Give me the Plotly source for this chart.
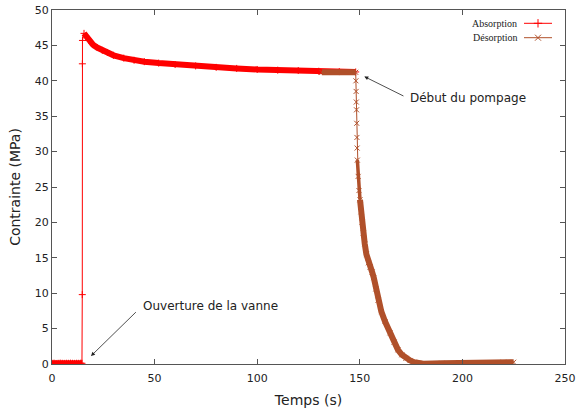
import numpy as np
import plotly.graph_objects as go

# Absorption series (time s, stress MPa)
abs_t = [0, 1, 2, 3, 4, 5, 6, 7, 8, 9, 10, 11, 12, 13, 14, 14.6,
         14.75, 14.8, 14.85, 15.6, 16.5, 18, 20, 22, 24.5, 27, 30, 35, 40, 45,
         52, 60, 70, 80, 90, 100, 110, 120, 130, 140, 148]
abs_v = [0.1, 0.12, 0.08, 0.1, 0.13, 0.1, 0.09, 0.11, 0.1, 0.12, 0.1, 0.09, 0.11, 0.1, 0.12, 0.1,
         9.8, 42.4, 45.7, 46.7, 46.3, 45.7, 45.1, 44.7, 44.3, 44.0, 43.6, 43.2, 42.9, 42.7,
         42.5, 42.3, 42.1, 41.9, 41.75, 41.6, 41.5, 41.45, 41.35, 41.3, 41.25]

# Desorption series
des_t = [131.5, 135, 140, 145, 148.0, 148.1, 148.2, 148.3, 148.4, 148.5, 148.6, 148.7, 148.8,
         149.2, 149.6, 150.1, 150.6, 151.1, 151.7, 152.4, 153.2, 154.2, 155.0, 156.0, 156.8,
         157.8, 158.9, 160.5, 162.3, 164.7, 166.7, 168.6, 170.5, 172.5, 174.5, 176.5, 178.5,
         181, 190, 200, 210, 220, 225]
des_v = [41.2, 41.2, 41.2, 41.2, 41.2, 40.0, 38.5, 37.0, 35.9, 34.0, 32.0, 30.5, 28.8,
         26.5, 24.5, 23.2, 21.5, 20.0, 18.5, 17.0, 15.5, 14.3, 13.7, 13.0, 12.2,
         10.6, 9.0, 7.4, 6.0, 4.4, 3.1, 2.0, 1.3, 0.8, 0.5, 0.25, 0.12,
         0.05, 0.1, 0.15, 0.2, 0.25, 0.25]

x_ticks = [0, 50, 100, 150, 200, 250]
y_ticks = [0, 5, 10, 15, 20, 25, 30, 35, 40, 45, 50]

RED = "#ff0000"
BROWN = "#b0502a"
FONT = "DejaVu Sans"

at = np.array(abs_t); av = np.array(abs_v)
dt = np.array(des_t); dv = np.array(des_v)

fig = go.Figure()

# dense "band" look of the absorption curve
m0 = at <= 14.6
m1 = at >= 15.6
for m in (m0, m1):
    fig.add_trace(go.Scatter(x=at[m], y=av[m], mode="lines", line=dict(color=RED, width=6),
                             showlegend=False, hoverinfo="skip"))
fig.add_trace(go.Scatter(x=at, y=av, mode="lines+markers", name="Absorption",
                         line=dict(color=RED, width=1),
                         marker=dict(symbol="cross-thin", size=5, line=dict(color=RED, width=1)),
                         showlegend=False))

# desorption
d0 = dt <= 148.0
d1 = (dt >= 148.8) & (dt <= 150.1)
d2 = dt >= 150.1
for m, w in ((d0, 6), (d1, 3.5), (d2, 6)):
    fig.add_trace(go.Scatter(x=dt[m], y=dv[m], mode="lines", line=dict(color=BROWN, width=w),
                             showlegend=False, hoverinfo="skip"))
fig.add_trace(go.Scatter(x=dt, y=dv, mode="lines+markers", name="Désorption",
                         line=dict(color=BROWN, width=1),
                         marker=dict(symbol="x-thin", size=5, line=dict(color=BROWN, width=1)),
                         showlegend=False))

# custom legend on an overlay axis in page pixel coordinates
leg_names = ["Absorption", "Désorption"]
leg_cols = [RED, BROWN]
leg_syms = ["cross-thin", "x-thin"]
leg_y = [23.3, 37.7]
for name, col, sym, yy in zip(leg_names, leg_cols, leg_syms, leg_y):
    fig.add_trace(go.Scatter(x=[524, 552], y=[yy, yy], mode="lines", line=dict(color=col, width=1),
                             xaxis="x2", yaxis="y2", showlegend=False, hoverinfo="skip"))
    fig.add_trace(go.Scatter(x=[538], y=[yy], mode="markers",
                             marker=dict(symbol=sym, size=6, line=dict(color=col, width=1)),
                             xaxis="x2", yaxis="y2", showlegend=False, hoverinfo="skip"))
    fig.add_annotation(x=519, y=yy, xref="x2", yref="y2", text=name, showarrow=False,
                       xanchor="right", yanchor="middle",
                       font=dict(family="Liberation Serif", size=10, color="#222"))

# annotations with arrows
fig.add_annotation(x=152.2, y=40.6, ax=172.0, ay=37.75, axref="x", ayref="y",
                   xref="x", yref="y", text="", showarrow=True, arrowhead=2, arrowsize=1,
                   arrowwidth=0.8, arrowcolor="#222")
fig.add_annotation(x=173.6, y=37.6, xref="x", yref="y", text="Début du pompage", showarrow=False,
                   xanchor="left", yanchor="middle", font=dict(family=FONT, size=12, color="#222"))
fig.add_annotation(x=19.0, y=1.13, ax=41.6, ay=7.53, axref="x", ayref="y",
                   xref="x", yref="y", text="", showarrow=True, arrowhead=2, arrowsize=1,
                   arrowwidth=0.8, arrowcolor="#222")
fig.add_annotation(x=43.2, y=8.19, xref="x", yref="y", text="Ouverture de la vanne", showarrow=False,
                   xanchor="left", yanchor="middle", font=dict(family=FONT, size=12, color="#222"))

axis_common = dict(showline=True, linecolor="#555", linewidth=1, mirror="ticks",
                   ticks="inside", ticklen=5, tickcolor="#555", showgrid=False, zeroline=False,
                   automargin=False,
                   tickfont=dict(family=FONT, size=11, color="#222"))

fig.update_layout(
    width=578, height=409,
    margin=dict(l=52, r=13, t=10, b=45, autoexpand=False),
    paper_bgcolor="white", plot_bgcolor="white",
    xaxis=dict(range=[0, 250], tickvals=x_ticks, ticklabelstandoff=4,
               title=dict(text="Temps (s)", font=dict(family=FONT, size=14, color="#222"), standoff=10),
               **axis_common),
    yaxis=dict(range=[0, 50], tickvals=y_ticks,
               title=dict(text="Contrainte (MPa)", font=dict(family=FONT, size=14, color="#222"), standoff=10),
               **axis_common),
    xaxis2=dict(range=[52, 565], overlaying="x", visible=False, fixedrange=True),
    yaxis2=dict(range=[364, 10], overlaying="y", visible=False, fixedrange=True),
    showlegend=False,
)

fig.write_html("out.html")
